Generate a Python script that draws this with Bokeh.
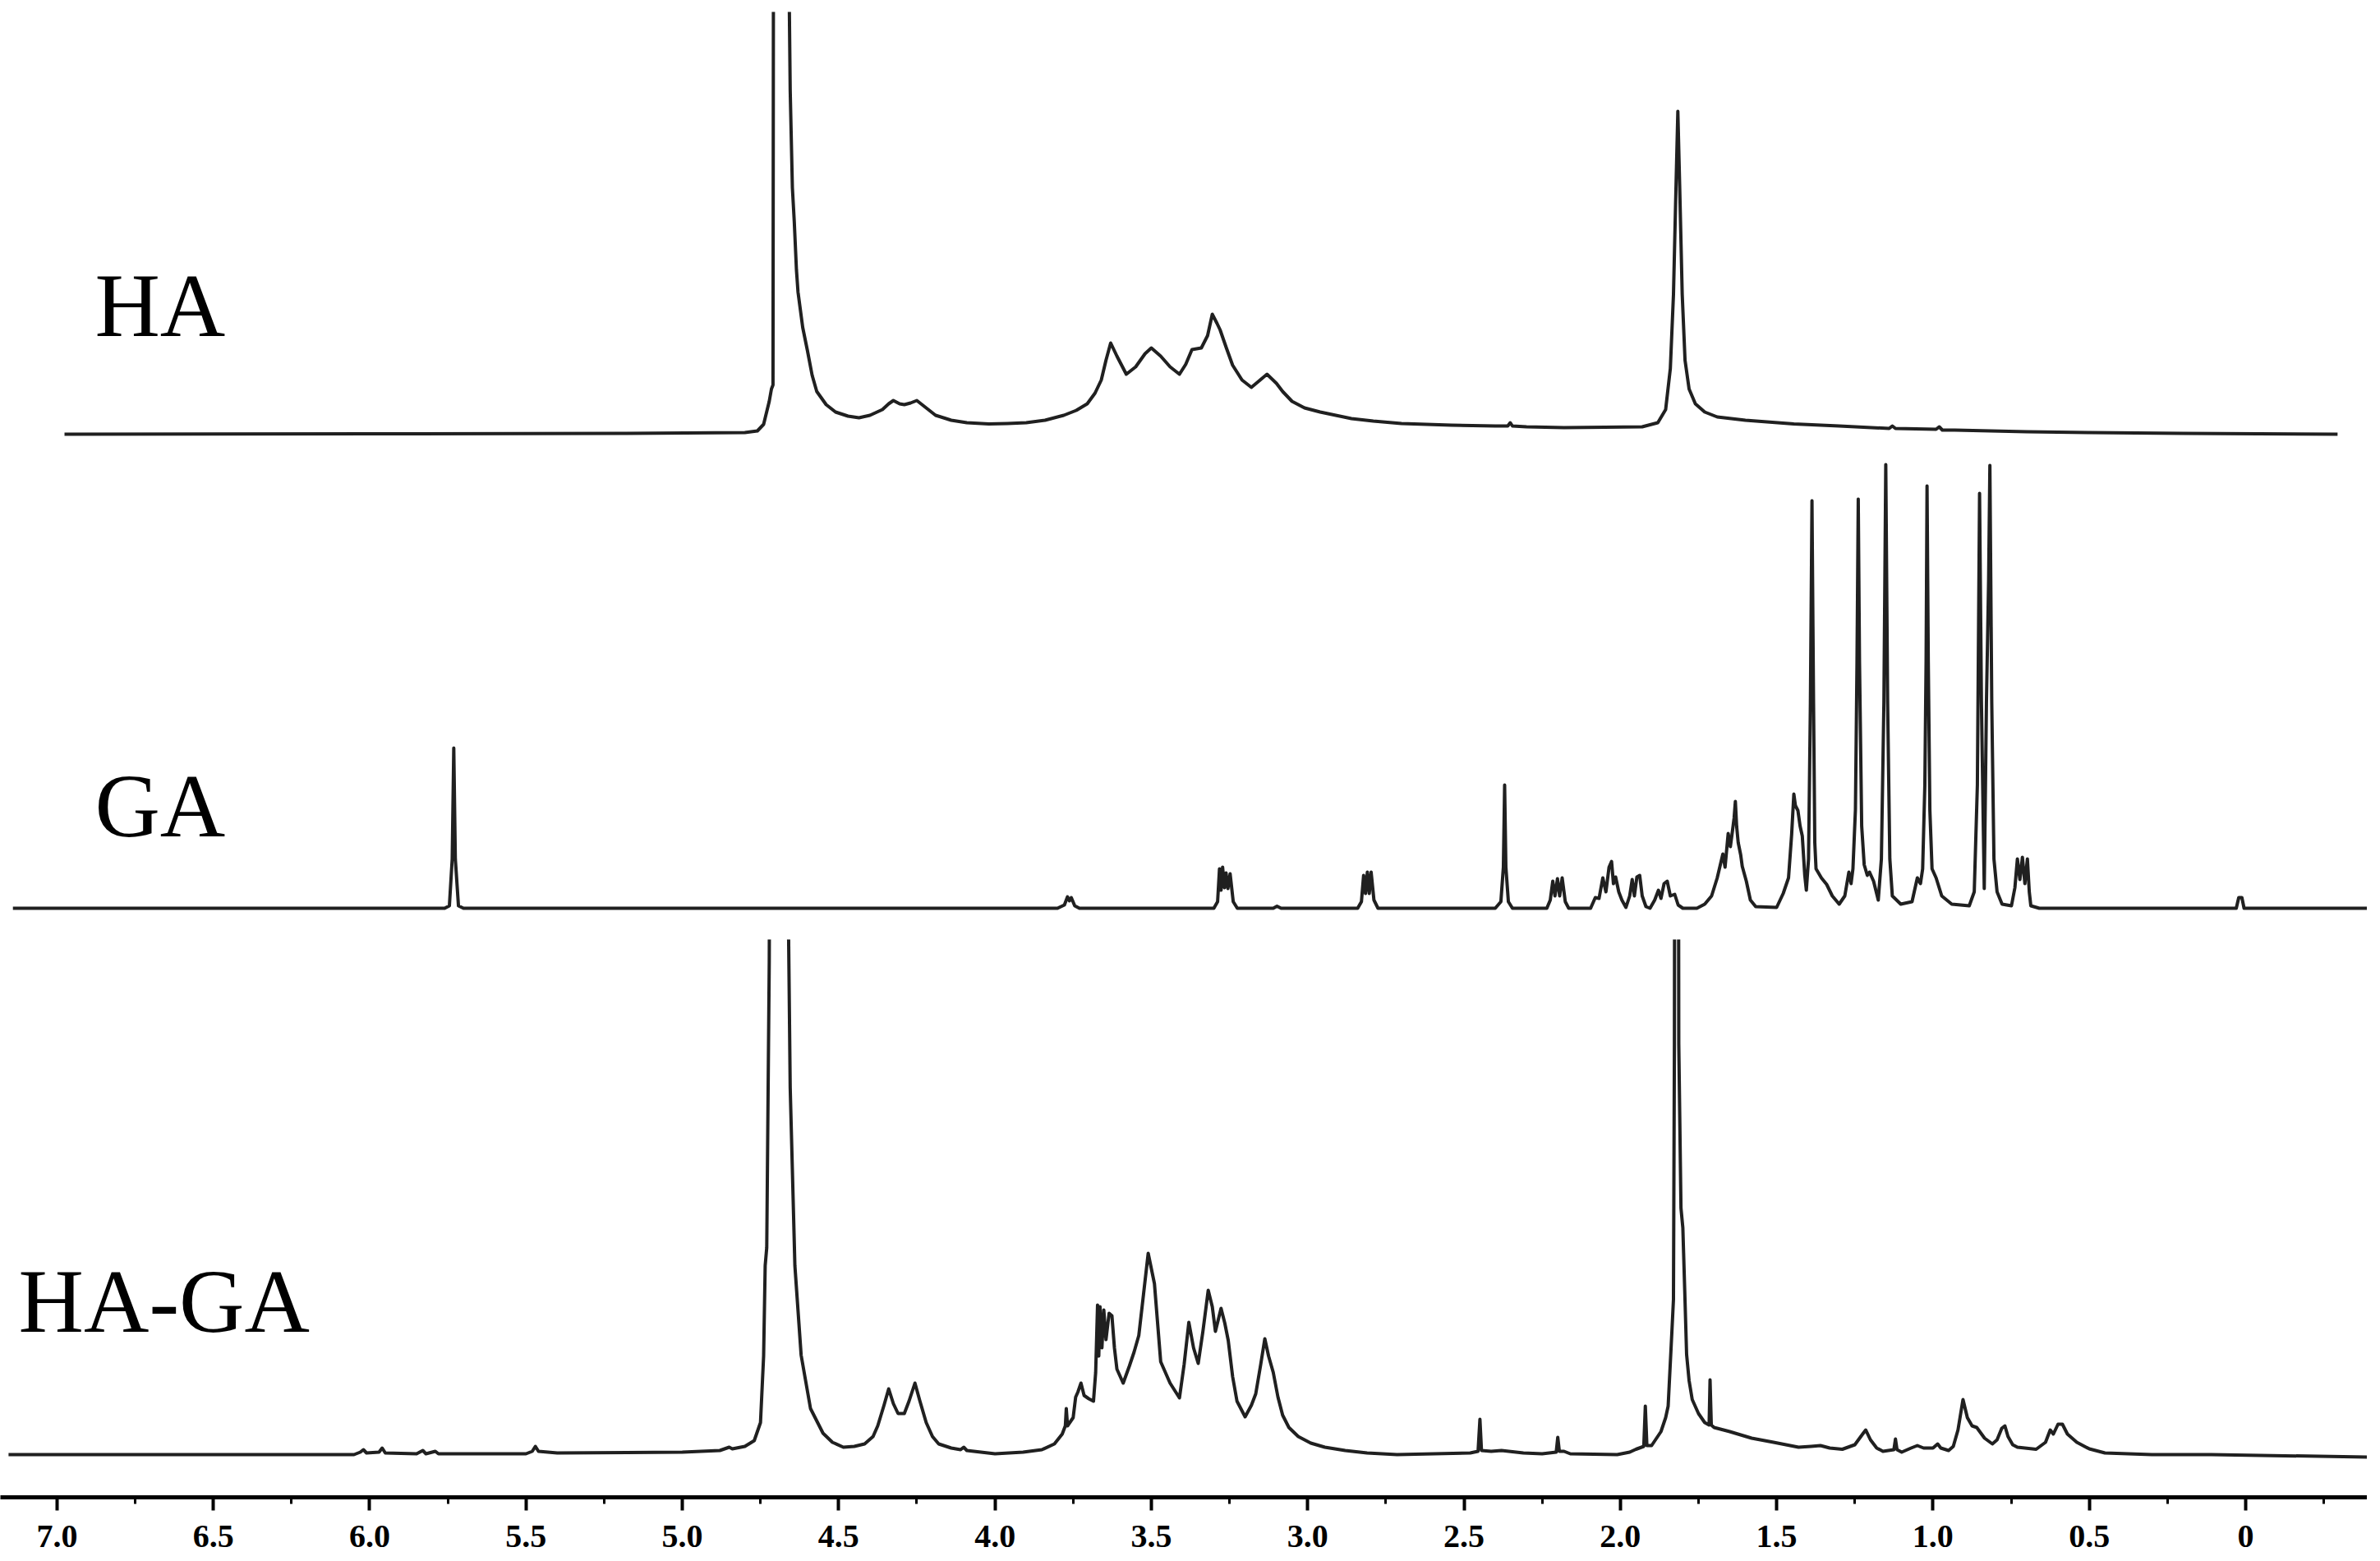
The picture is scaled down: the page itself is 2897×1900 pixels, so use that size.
from bokeh.plotting import figure
from bokeh.layouts import column
from bokeh.models import Range1d, Label, FixedTicker, CustomJSTickFormatter
from bokeh.embed import file_html
from bokeh.resources import INLINE

# ---------------- data (chemical shift ppm, intensity) ----------------
ha_points = [
    (6.976, 0), (6.0, 0.5), (5.2, 1), (4.80, 2), (4.76, 4), (4.74, 12), (4.722, 40), (4.715, 55),
    (4.710, 60), (4.706, 1500), (4.668, 1500), (4.660, 600), (4.655, 419), (4.648, 300), (4.642, 259),
    (4.635, 200), (4.63, 173), (4.615, 130), (4.60, 102), (4.585, 72), (4.57, 52), (4.54, 36),
    (4.51, 27), (4.47, 22), (4.435, 20), (4.40, 23), (4.36, 30), (4.34, 37), (4.325, 41), (4.305, 37),
    (4.29, 36), (4.27, 38), (4.25, 41), (4.22, 32), (4.19, 23), (4.14, 17), (4.09, 14), (4.02, 12.5),
    (3.96, 13), (3.90, 14), (3.84, 17), (3.78, 23), (3.74, 29), (3.705, 37), (3.68, 50), (3.66, 66),
    (3.645, 90), (3.63, 111), (3.61, 95), (3.58, 73), (3.55, 82), (3.52, 98), (3.50, 105), (3.47, 95),
    (3.44, 82), (3.41, 73), (3.39, 85), (3.37, 103), (3.34, 105), (3.32, 120), (3.305, 146),
    (3.29, 135), (3.28, 127), (3.26, 105), (3.24, 84), (3.21, 66), (3.18, 57), (3.155, 65), (3.13, 73),
    (3.10, 62), (3.08, 52), (3.05, 40), (3.01, 32), (2.96, 27), (2.91, 23), (2.86, 19), (2.79, 16),
    (2.70, 13), (2.54, 11), (2.40, 10), (2.36, 10), (2.352, 14), (2.345, 10), (2.30, 9), (2.18, 8),
    (2.05, 8.5), (1.93, 9), (1.88, 14), (1.855, 30), (1.84, 80), (1.83, 170), (1.822, 300),
    (1.816, 393), (1.81, 300), (1.802, 170), (1.793, 90), (1.78, 55), (1.76, 37), (1.73, 27),
    (1.69, 21), (1.60, 17), (1.445, 12.5), (1.30, 10), (1.14, 7), (1.13, 10), (1.12, 7), (0.99, 6),
    (0.98, 9), (0.97, 5), (0.93, 5), (0.70, 3), (0.50, 2), (0.20, 1), (-0.294, 0),
]

ga_points = [
    (7.141, 0), (5.76, 0), (5.745, 3), (5.736, 60), (5.731, 195), (5.726, 60), (5.716, 3), (5.70, 0),
    (3.80, 0), (3.778, 4), (3.768, 14), (3.762, 9), (3.756, 13), (3.745, 3), (3.73, 0),
    (3.30, 0), (3.288, 8), (3.282, 48), (3.277, 22), (3.272, 50), (3.266, 25), (3.261, 43),
    (3.255, 24), (3.248, 42), (3.238, 8), (3.225, 0),
    (3.11, 0), (3.098, 2.5), (3.085, 0),
    (2.84, 0), (2.828, 8), (2.821, 40), (2.815, 18), (2.809, 44), (2.803, 18), (2.797, 44),
    (2.788, 10), (2.775, 0),
    (2.40, 0), (2.382, 8), (2.374, 50), (2.370, 150), (2.366, 50), (2.358, 8), (2.345, 0),
    (2.235, 0), (2.224, 10), (2.216, 33), (2.209, 15), (2.201, 36), (2.194, 15), (2.186, 37),
    (2.176, 8), (2.165, 0),
    (2.095, 0), (2.08, 13), (2.068, 12), (2.056, 37), (2.046, 20), (2.036, 50), (2.028, 57),
    (2.022, 30), (2.015, 38), (2.005, 20), (1.995, 10), (1.982, 1), (1.970, 15), (1.962, 35),
    (1.955, 15), (1.947, 38), (1.938, 40), (1.930, 15), (1.918, 2), (1.905, 0), (1.890, 10),
    (1.878, 22), (1.870, 12), (1.860, 30), (1.850, 33), (1.840, 15), (1.826, 17), (1.815, 4),
    (1.80, 0), (1.755, 0),
    (1.73, 5), (1.708, 15), (1.69, 37), (1.672, 66), (1.665, 50), (1.655, 91), (1.648, 75),
    (1.641, 95), (1.636, 110), (1.632, 130), (1.628, 100), (1.623, 80), (1.615, 65), (1.61, 51),
    (1.597, 33), (1.584, 10), (1.567, 2), (1.50, 1),
    (1.479, 18), (1.462, 37), (1.452, 90), (1.445, 139), (1.44, 125), (1.432, 119), (1.425, 100),
    (1.418, 88), (1.41, 40), (1.405, 22), (1.398, 60), (1.392, 250), (1.387, 496), (1.382, 250),
    (1.378, 80), (1.374, 48), (1.357, 37), (1.34, 29), (1.322, 15), (1.30, 5), (1.282, 15),
    (1.269, 44), (1.262, 30), (1.256, 48), (1.248, 120), (1.243, 300), (1.239, 498), (1.235, 300),
    (1.228, 100), (1.22, 53), (1.21, 40), (1.203, 44), (1.19, 33), (1.175, 10), (1.165, 60),
    (1.157, 250), (1.151, 540), (1.145, 250), (1.138, 60), (1.13, 15), (1.103, 5), (1.067, 8),
    (1.05, 37), (1.04, 30), (1.033, 48), (1.026, 150), (1.022, 300), (1.019, 514), (1.015, 300),
    (1.01, 120), (1.003, 48), (0.99, 37), (0.972, 15), (0.94, 5), (0.884, 3), (0.868, 20),
    (0.858, 150), (0.851, 505), (0.845, 250), (0.836, 24), (0.829, 250), (0.822, 400),
    (0.818, 539), (0.812, 250), (0.805, 60), (0.795, 20), (0.779, 5), (0.749, 3), (0.738, 25),
    (0.730, 60), (0.722, 35), (0.714, 62), (0.706, 30), (0.698, 60), (0.692, 20), (0.687, 3),
    (0.66, 0), (0.03, 0), (0.022, 13), (0.012, 13), (0.005, 0), (-0.391, 0),
]

haga_points = [
    (7.155, 0), (6.05, 0), (6.03, 3), (6.02, 6), (6.01, 2), (5.97, 3), (5.96, 8), (5.95, 2),
    (5.85, 1), (5.83, 5), (5.82, 1), (5.79, 4), (5.78, 1), (5.50, 1), (5.48, 4), (5.47, 10),
    (5.46, 4), (5.40, 2), (5.0, 3), (4.88, 5), (4.85, 9), (4.84, 7), (4.80, 10), (4.77, 17),
    (4.75, 39), (4.74, 120), (4.735, 230), (4.73, 252), (4.722, 600), (4.714, 1500), (4.667, 1500),
    (4.662, 700), (4.655, 447), (4.64, 230), (4.62, 121), (4.59, 56), (4.55, 26), (4.52, 15),
    (4.485, 9), (4.45, 10), (4.417, 13), (4.39, 22), (4.375, 35), (4.355, 60), (4.34, 80),
    (4.325, 62), (4.31, 50), (4.29, 50), (4.275, 65), (4.256, 87), (4.24, 65), (4.22, 39),
    (4.20, 22), (4.18, 13), (4.14, 8), (4.11, 6), (4.10, 9), (4.09, 5), (4.00, 1), (3.91, 3),
    (3.85, 6), (3.81, 13), (3.785, 25), (3.775, 35), (3.772, 56), (3.768, 35), (3.75, 45),
    (3.742, 70), (3.735, 76), (3.725, 87), (3.715, 72), (3.70, 68), (3.685, 65), (3.678, 100),
    (3.672, 182), (3.668, 120), (3.664, 180), (3.658, 130), (3.652, 176), (3.645, 140),
    (3.635, 172), (3.626, 169), (3.618, 130), (3.61, 104), (3.59, 87), (3.57, 108), (3.555, 125),
    (3.54, 145), (3.525, 195), (3.51, 245), (3.49, 208), (3.47, 113), (3.44, 87), (3.41, 69),
    (3.395, 110), (3.38, 161), (3.365, 130), (3.35, 111), (3.335, 150), (3.318, 200),
    (3.305, 180), (3.295, 150), (3.277, 178), (3.265, 160), (3.254, 139), (3.24, 95),
    (3.226, 65), (3.20, 46), (3.18, 60), (3.166, 74), (3.15, 110), (3.137, 141), (3.125, 120),
    (3.11, 100), (3.095, 70), (3.08, 48), (3.06, 33), (3.03, 22), (2.99, 14), (2.945, 9),
    (2.88, 5), (2.81, 2), (2.714, 0), (2.48, 2), (2.455, 4), (2.449, 43), (2.444, 5), (2.413, 4),
    (2.38, 5), (2.31, 2), (2.25, 1), (2.205, 3), (2.20, 21), (2.195, 4), (2.18, 4), (2.16, 1),
    (2.01, 0), (1.97, 3), (1.95, 6.5), (1.925, 10), (1.92, 59), (1.915, 11), (1.90, 11),
    (1.87, 28), (1.855, 45), (1.847, 59), (1.835, 150), (1.83, 189), (1.827, 500), (1.824, 1400),
    (1.816, 1400), (1.813, 500), (1.806, 300), (1.80, 276), (1.794, 200), (1.788, 122),
    (1.78, 90), (1.77, 67), (1.75, 50), (1.73, 39), (1.716, 36), (1.713, 91), (1.709, 36),
    (1.70, 33), (1.65, 28), (1.58, 20), (1.51, 15), (1.43, 9), (1.39, 10), (1.36, 11), (1.33, 8),
    (1.29, 6.5), (1.25, 12), (1.225, 25), (1.215, 30), (1.20, 18), (1.18, 8), (1.16, 4),
    (1.125, 6), (1.12, 19), (1.115, 6), (1.10, 3), (1.07, 8), (1.05, 11), (1.03, 8), (1.00, 8),
    (0.985, 13), (0.975, 8), (0.95, 5), (0.935, 10), (0.92, 30), (0.904, 67), (0.89, 45),
    (0.875, 35), (0.86, 33), (0.835, 20), (0.81, 13), (0.795, 18), (0.78, 32), (0.77, 35),
    (0.76, 22), (0.745, 12), (0.73, 9), (0.67, 6.5), (0.64, 15), (0.625, 30), (0.615, 25),
    (0.600, 37), (0.586, 37), (0.57, 25), (0.54, 15), (0.50, 7), (0.45, 2), (0.30, 0),
    (0.11, 0), (-0.39, -3),
]

sample_names = ["HA", "GA", "HA-GA"]
tick_values = [7.0, 6.5, 6.0, 5.5, 5.0, 4.5, 4.0, 3.5, 3.0, 2.5, 2.0, 1.5, 1.0, 0.5, 0.0]
tick_labels = ["7.0", "6.5", "6.0", "5.5", "5.0", "4.5", "4.0", "3.5", "3.0", "2.5", "2.0",
               "1.5", "1.0", "0.5", "0"]
minor_values = [6.75, 6.25, 5.75, 5.25, 4.75, 4.25, 3.75, 3.25, 2.75, 2.25, 1.75, 1.25,
                0.75, 0.25, -0.25]

# ---------------- layout ----------------
W = 2881
xr = Range1d(7.181, -0.389)
LINE = "#202020"


def panel(height, y0, y1, top=0, bottom=0, axis=False):
    p = figure(width=W, height=height, x_range=xr, y_range=Range1d(y0, y1),
               output_backend="svg", toolbar_location=None,
               x_axis_location="below" if axis else None, y_axis_location=None,
               min_border_left=0, min_border_right=0, min_border_top=top,
               min_border_bottom=bottom)
    p.outline_line_color = None
    p.grid.visible = False
    p.background_fill_color = "white"
    p.border_fill_color = "white"
    return p


def draw(p, pts):
    xs = [a for a, _ in pts]
    ys = [b for _, b in pts]
    p.line(xs, ys, line_color=LINE, line_width=4, line_join="round")


LABEL_FONT = "Liberation Serif"
LABEL_SIZE = "110px"

p1 = panel(540, -12, 514, top=14)
draw(p1, ha_points)
p1.add_layout(Label(x=6.879, y=157, text=sample_names[0], text_font=LABEL_FONT,
                    text_font_size=LABEL_SIZE, text_baseline="alphabetic", text_color="black"))

p2 = panel(603, -38, 565)
draw(p2, ga_points)
p2.add_layout(Label(x=6.879, y=125, text=sample_names[1], text_font=LABEL_FONT,
                    text_font_size=LABEL_SIZE, text_baseline="alphabetic", text_color="black"))

p3 = panel(749, -52, 627, bottom=70, axis=True)
draw(p3, haga_points)
p3.add_layout(Label(x=7.123, y=187, text=sample_names[2], text_font=LABEL_FONT,
                    text_font_size=LABEL_SIZE, text_baseline="alphabetic", text_color="black"))

ax = p3.xaxis[0]
ax.ticker = FixedTicker(ticks=tick_values, minor_ticks=minor_values)
ax.formatter = CustomJSTickFormatter(
    args=dict(vals=tick_values, labels=tick_labels),
    code="const i = vals.findIndex(v => Math.abs(v - tick) < 1e-6); return i >= 0 ? labels[i] : '';")
ax.axis_line_width = 5
ax.axis_line_color = "black"
ax.major_tick_line_width = 4
ax.major_tick_line_color = "black"
ax.major_tick_out = 16
ax.major_tick_in = 0
ax.minor_tick_line_width = 3
ax.minor_tick_line_color = "black"
ax.minor_tick_out = 8
ax.minor_tick_in = 0
ax.major_label_text_font = "Liberation Serif"
ax.major_label_text_font_style = "bold"
ax.major_label_text_font_size = "40px"
ax.major_label_text_color = "black"
ax.major_label_standoff = 18

layout = column(p1, p2, p3, spacing=0)
open("out.html", "w").write(file_html(layout, INLINE))
